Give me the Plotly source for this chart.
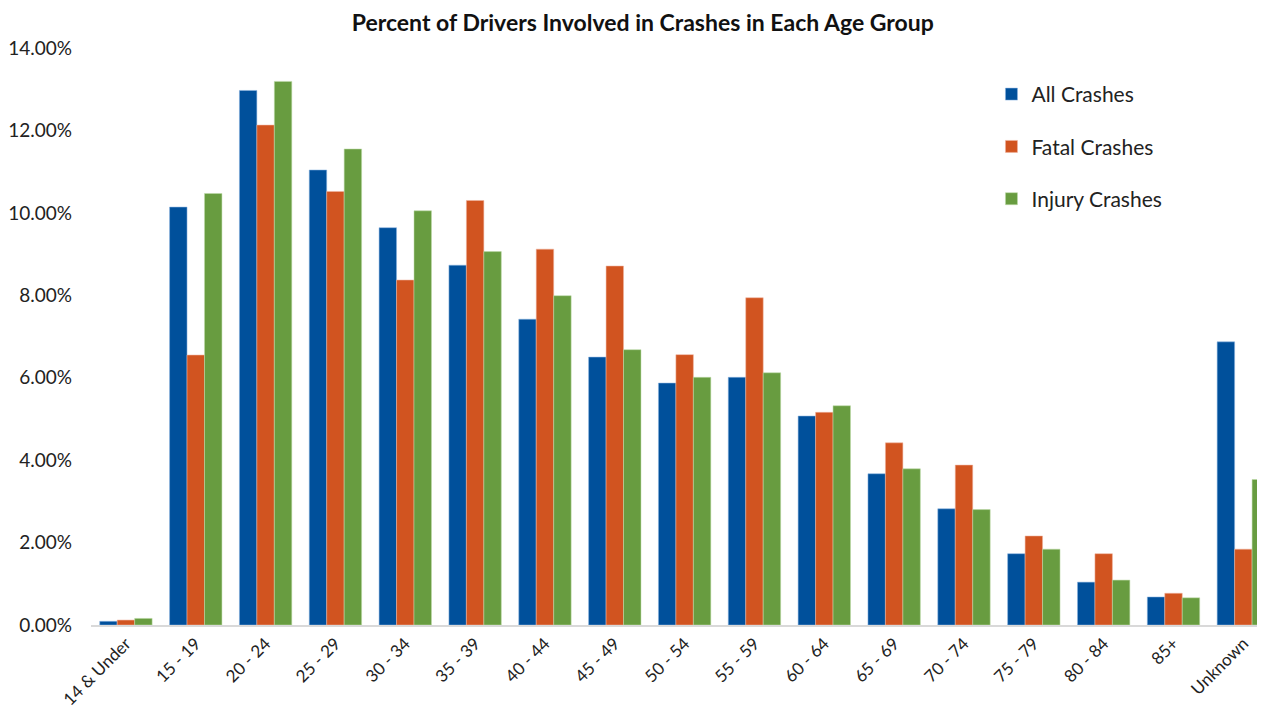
import plotly.graph_objects as go

categories = ["14 & Under", "15 - 19", "20 - 24", "25 - 29", "30 - 34", "35 - 39",
              "40 - 44", "45 - 49", "50 - 54", "55 - 59", "60 - 64", "65 - 69",
              "70 - 74", "75 - 79", "80 - 84", "85+", "Unknown"]

all_crashes = [0.09, 10.14, 12.97, 11.04, 9.64, 8.73, 7.42, 6.50, 5.87, 6.01,
               5.07, 3.67, 2.82, 1.73, 1.04, 0.68, 6.87]
fatal_crashes = [0.12, 6.55, 12.13, 10.52, 8.37, 10.30, 9.12, 8.71, 6.56, 7.94,
                 5.16, 4.42, 3.88, 2.16, 1.73, 0.77, 1.84]
injury_crashes = [0.16, 10.47, 13.19, 11.55, 10.05, 9.06, 7.99, 6.68, 6.01, 6.12,
                  5.32, 3.79, 2.80, 1.84, 1.09, 0.66, 3.53]

y_ticks = [0, 2, 4, 6, 8, 10, 12, 14]
y_tick_labels = [f"{v:.2f}%" for v in y_ticks]

series = [
    ("All Crashes", all_crashes, "#00509B", "rgba(140,180,225,0.9)"),
    ("Fatal Crashes", fatal_crashes, "#D15420", "rgba(240,180,160,0.9)"),
    ("Injury Crashes", injury_crashes, "#689C40", "rgba(190,220,170,0.9)"),
]

fig = go.Figure()
for name, vals, color, edge in series:
    fig.add_trace(go.Bar(
        x=categories, y=vals, name=name, legendgroup=name,
        marker=dict(color=color, line=dict(color=edge, width=0.6)),
    ))

fig.update_layout(
    width=1257, height=701,
    paper_bgcolor="white", plot_bgcolor="white",
    margin=dict(l=83, r=0, t=40, b=84),
    barmode="group", bargap=0.25, bargroupgap=0,
    font=dict(family="Lato, 'Open Sans', sans-serif", color="#222222"),
    title=dict(text="<b>Percent of Drivers Involved in Crashes in Each Age Group</b>",
               x=0.505, xanchor="center", y=0.978, yanchor="middle",
               font=dict(size=23, color="#111111")),
    legend=dict(x=0.767, xanchor="left", y=0.955, yanchor="top",
                font=dict(size=21, color="#222222"), tracegroupgap=22,
                bgcolor="rgba(0,0,0,0)", itemwidth=30),
    showlegend=True,
)
fig.update_xaxes(
    type="category", range=[-0.5, 16.31], tickangle=-45,
    tickfont=dict(size=17, color="#222222"),
    showline=True, linecolor="#D9D9D9", linewidth=2,
    showgrid=False, ticks="", fixedrange=True,
)
fig.update_yaxes(
    range=[0, 14], tickvals=y_ticks, ticktext=y_tick_labels,
    tickfont=dict(size=19, color="#222222"),
    showgrid=False, zeroline=False, showline=False, ticks="",
    ticklabelstandoff=18,
)

fig.write_html("out.html")
